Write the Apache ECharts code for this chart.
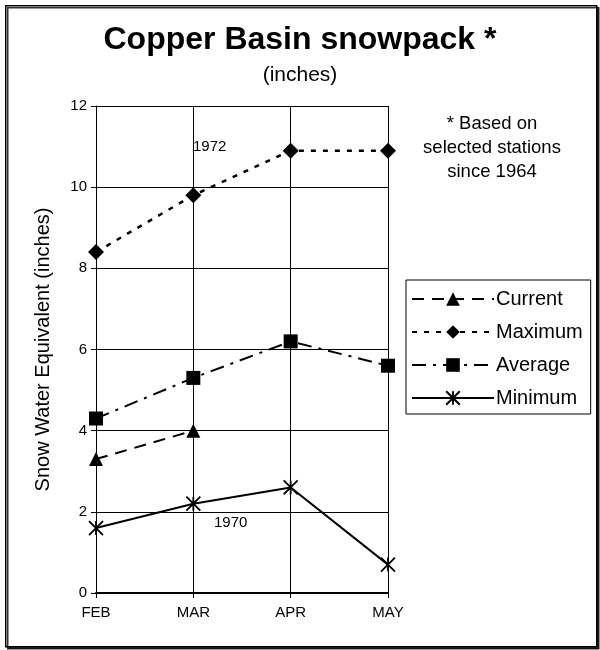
<!DOCTYPE html>
<html>
<head>
<meta charset="utf-8">
<script src="https://cdn.jsdelivr.net/npm/echarts@6/dist/echarts.min.js"></script>
<style>
  html, body { margin: 0; padding: 0; background: #fff; }
  #main { width: 600px; height: 650px; }
</style>
</head>
<body>
<div id="main"></div>
<script>
var months = ['FEB', 'MAR', 'APR', 'MAY'];
var current = [3.3, 4.0, null, null];
var maximum = [8.4, 9.8, 10.9, 10.9];
var average = [4.3, 5.3, 6.2, 5.6];
var minimum = [1.6, 2.2, 2.6, 0.7];

var font = 'Arial, "Liberation Sans", sans-serif';
var starPath = 'path://M0,0L10,10M10,0L0,10M5,0L5,10';

var myChart = echarts.init(document.getElementById('main'));

function lineSeries(name, data, symbol, size, dash, width) {
  return {
    name: name,
    type: 'line',
    data: data,
    symbol: symbol,
    symbolSize: size,
    showSymbol: true,
    connectNulls: false,
    animation: false,
    lineStyle: { color: '#000', width: width, type: dash },
    itemStyle: { color: '#000', borderColor: '#000', borderWidth: symbol === starPath ? 1.8 : 0 }
  };
}

var option = {
  backgroundColor: '#fff',
  textStyle: { fontFamily: font },
  title: {
    text: 'Copper Basin snowpack *',
    subtext: '(inches)',
    left: 'center',
    top: 19,
    itemGap: 9,
    textStyle: { fontSize: 32, fontWeight: 'bold', color: '#000', fontFamily: font },
    subtextStyle: { fontSize: 21, color: '#000', fontFamily: font }
  },
  legend: {
    orient: 'vertical',
    left: 406,
    top: 280,
    width: 186,
    padding: [9, 8, 6, 5],
    itemWidth: 82,
    itemHeight: 17,
    itemGap: 13,
    borderColor: '#000',
    borderWidth: 1,
    backgroundColor: '#fff',
    textStyle: { fontSize: 20, color: '#000', fontFamily: font, padding: [0, 0, 0, -3] },
    data: ['Current', 'Maximum', 'Average', 'Minimum']
  },
  grid: { left: 96, right: 212, top: 106, bottom: 57 },
  xAxis: {
    type: 'category',
    data: months,
    boundaryGap: false,
    axisLine: { lineStyle: { color: '#000', width: 2 } },
    axisTick: { show: true, alignWithLabel: true, length: 5, lineStyle: { color: '#000' } },
    axisLabel: { color: '#000', fontSize: 15, margin: 12, fontFamily: font },
    splitLine: { show: true, lineStyle: { color: '#000', width: 1 } }
  },
  yAxis: {
    type: 'value',
    min: 0,
    max: 12,
    interval: 2,
    name: 'Snow Water Equivalent (inches)',
    nameLocation: 'middle',
    nameGap: 43,
    nameTextStyle: { fontSize: 20, color: '#000', fontFamily: font },
    axisLine: { show: true, lineStyle: { color: '#000', width: 1 } },
    axisTick: { show: true, length: 5, lineStyle: { color: '#000' } },
    axisLabel: { color: '#000', fontSize: 15, margin: 9, fontFamily: font },
    splitLine: { show: true, lineStyle: { color: '#000', width: 1 } }
  },
  graphic: [
    {
      type: 'rect',
      left: 5, top: 5, z: -10,
      shape: { width: 591, height: 641 },
      style: { fill: '#fff', stroke: '#000', lineWidth: 1.5, shadowColor: 'rgba(0,0,0,0.8)', shadowOffsetX: 2, shadowOffsetY: 2, shadowBlur: 0 }
    },
    {
      type: 'text',
      left: 193, top: 139, z: 20,
      style: { text: '1972', fontSize: 15, fill: '#000', fontFamily: font }
    },
    {
      type: 'text',
      left: 214, top: 515, z: 20,
      style: { text: '1970', fontSize: 15, fill: '#000', fontFamily: font }
    },
    {
      type: 'text',
      x: 492, y: 112, z: 20,
      style: {
        text: '* Based on\nselected stations\nsince 1964',
        fontSize: 18.5, lineHeight: 24, fill: '#000', align: 'center', fontFamily: font
      }
    }
  ],
  series: [
    lineSeries('Current', current, 'triangle', 14, [12, 8], 2),
    lineSeries('Maximum', maximum, 'diamond', 16, [5, 7], 2.5),
    lineSeries('Average', average, 'rect', 14, [14, 7, 3, 7], 2),
    lineSeries('Minimum', minimum, starPath, 14, 'solid', 2)
  ]
};

myChart.setOption(option);
</script>
</body>
</html>
